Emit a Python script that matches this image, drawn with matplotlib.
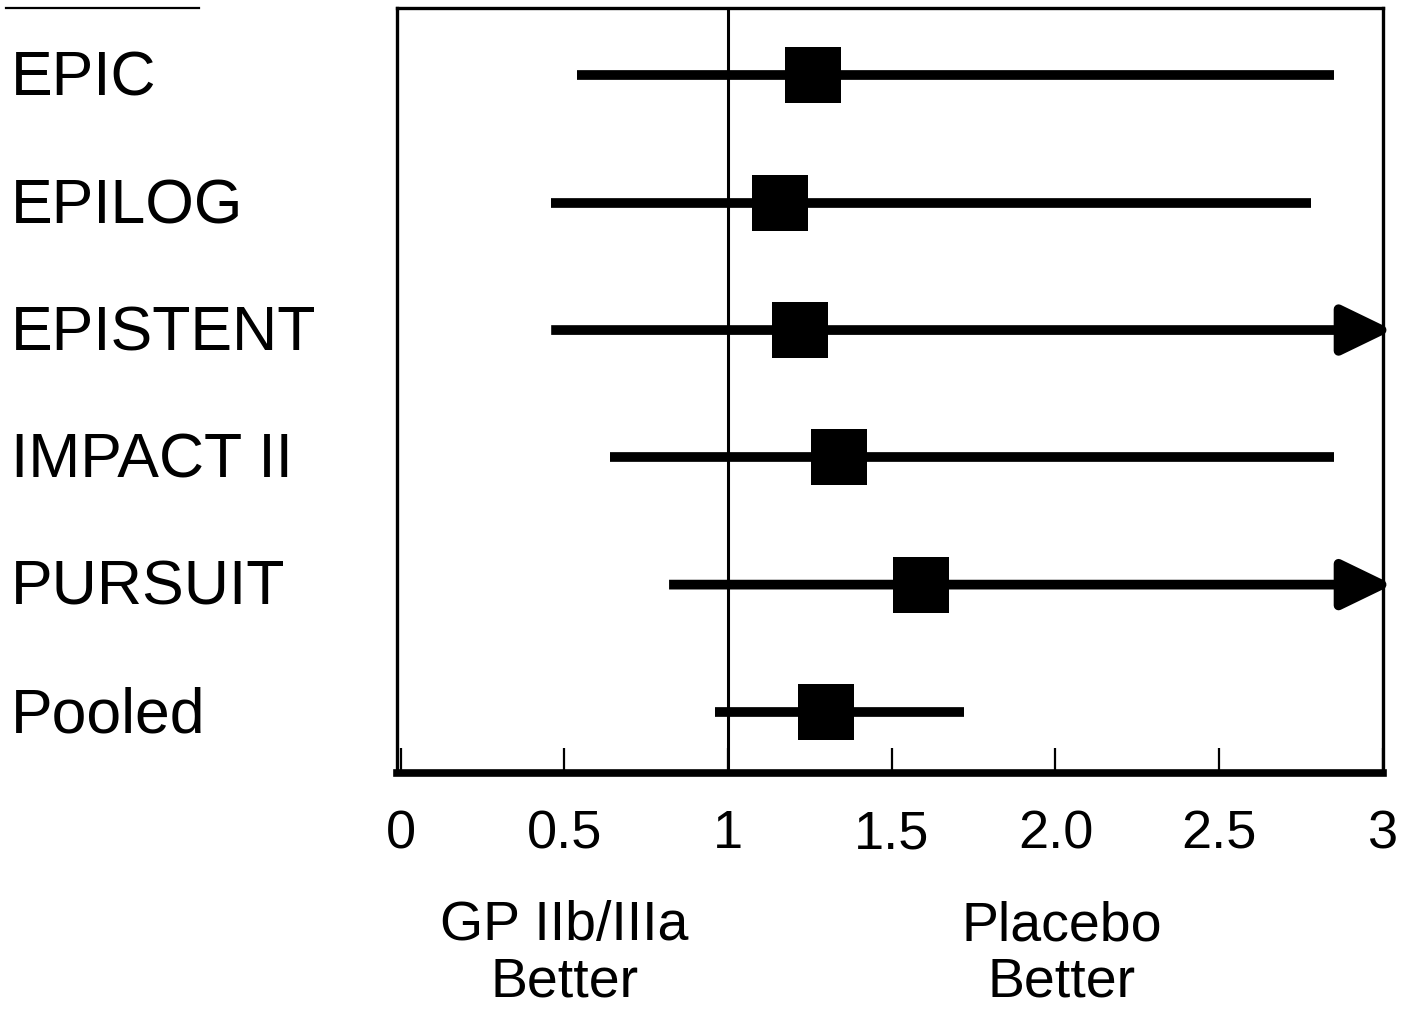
import matplotlib
matplotlib.use("Agg")
import matplotlib.pyplot as plt
import matplotlib.transforms as mtransforms
from matplotlib.lines import Line2D
import numpy as np

plt.rcParams['font.family'] = ['Liberation Sans', 'DejaVu Sans']

# trial data (odds ratio with 95% CI); None = upper limit off the scale
trials = ["EPIC", "EPILOG", "EPISTENT", "IMPACT II", "PURSUIT", "Pooled"]
point = [1.26, 1.16, 1.22, 1.34, 1.59, 1.30]
ci_low = [0.54, 0.46, 0.46, 0.64, 0.82, 0.96]
ci_high = [2.85, 2.78, None, 2.85, None, 1.72]

xticks = [0, 0.5, 1, 1.5, 2.0, 2.5, 3]
xticklabels = ["0", "0.5", "1", "1.5", "2.0", "2.5", "3"]
xmax = 3
arrow_tip = 3.03

fig = plt.figure(figsize=(14.04, 10.11), dpi=100)
ax = fig.add_axes([0.2825, 0.2354, 0.7025, 0.7567])

ypos = np.arange(len(trials))
ax.set_ylim(5.48, -0.53)
ax.set_xlim(-0.012, xmax)

# reference line at 1
ax.axvline(1, color='black', lw=2.2, zorder=1)

for i, name in enumerate(trials):
    lo = ci_low[i]
    hi = ci_high[i]
    if hi is None:
        ax.annotate('', xy=(arrow_tip, ypos[i]), xytext=(lo, ypos[i]),
                    xycoords='data', textcoords='data',
                    arrowprops=dict(arrowstyle='-|>,head_length=31,head_width=15',
                                    mutation_scale=1, lw=7, color='black',
                                    shrinkA=0, shrinkB=0, capstyle='butt'),
                    annotation_clip=False, zorder=2)
    else:
        ax.plot([lo, hi], [ypos[i], ypos[i]], color='black', lw=7,
                solid_capstyle='butt', zorder=2)
    ax.plot(point[i], ypos[i], marker='s', color='black', markersize=41,
            markeredgewidth=0, zorder=3)

# trial names at the left edge of the figure
trans = mtransforms.blended_transform_factory(fig.transFigure, ax.transData)
for i, name in enumerate(trials):
    ax.text(0.008, ypos[i] + 0.03, name, transform=trans, ha='left', va='center',
            fontsize=45)

ax.set_yticks([])
ax.set_xticks(xticks)
ax.set_xticklabels(xticklabels, fontsize=39)
ax.tick_params(axis='x', direction='in', length=18, width=1.6, pad=26)

for s in ['left', 'right', 'top']:
    ax.spines[s].set_linewidth(2.4)
ax.spines['bottom'].set_linewidth(5.5)

# bottom captions
trans2 = mtransforms.blended_transform_factory(ax.transData, fig.transFigure)
ax.text(0.5, 0.056, "GP IIb/IIIa\nBetter", transform=trans2, ha='center',
        va='center', fontsize=40, linespacing=1.1)
ax.text(2.02, 0.056, "Placebo\nBetter", transform=trans2, ha='center',
        va='center', fontsize=40, linespacing=1.1)

# short rule at top-left
fig.add_artist(Line2D([0.004, 0.142], [0.992, 0.992], color='black', lw=1.6))

fig.savefig("out.png", dpi=100)
